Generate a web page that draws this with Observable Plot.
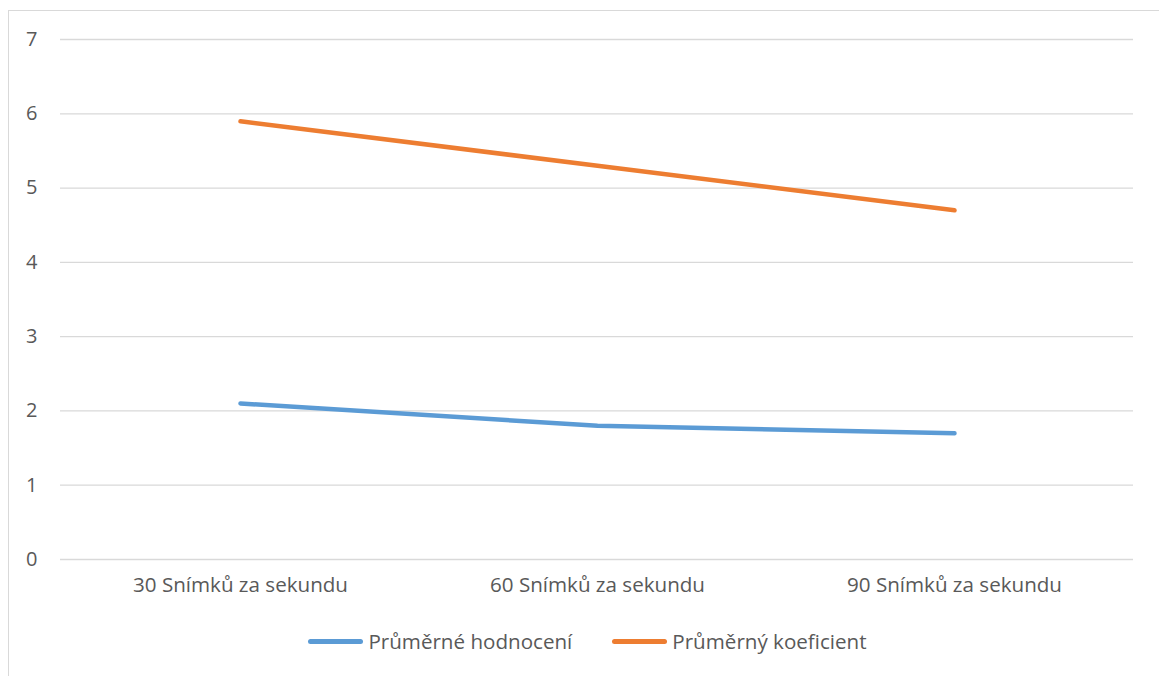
<!DOCTYPE html>
<html>
<head>
<meta charset="utf-8">
<script src="https://cdn.jsdelivr.net/npm/d3@7"></script>
<script src="https://cdn.jsdelivr.net/npm/@observablehq/plot@0.6"></script>
<style>
  html, body { margin: 0; padding: 0; background: #fff; overflow: hidden; }
  body { width: 1159px; height: 676px; position: relative; font-family: "Open Sans", Lato, sans-serif; color: #595959; }
  #frame { position: absolute; left: 8px; top: 10px; width: 1200px; height: 720px; border: 1px solid #d9d9d9; box-sizing: border-box; }
  #chart { position: absolute; left: 0; top: 0; }
  #legend { position: absolute; left: 8px; top: 627px; width: 1159px; display: flex; justify-content: center; gap: 40px; font-size: 20.6px; }
  .item { display: flex; align-items: center; }
  .swatch { width: 55px; height: 5px; border-radius: 3px; margin-right: 5px; }
</style>
</head>
<body>
<div id="frame"></div>
<div id="chart"></div>
<div id="legend"></div>
<script>
// Frame rates on the x axis
const categories = ["30 Snímků za sekundu", "60 Snímků za sekundu", "90 Snímků za sekundu"];
// Series names and values
const seriesNames = ["Průměrné hodnocení", "Průměrný koeficient"];
const hodnoceni = [2.1, 1.8, 1.7];
const koeficient = [5.9, 5.3, 4.7];
const colors = ["#5b9bd5", "#ed7d31"];
const yTicks = [0, 1, 2, 3, 4, 5, 6, 7];

const rows = [
  ...categories.map((c, i) => ({cat: c, value: hodnoceni[i], series: seriesNames[0]})),
  ...categories.map((c, i) => ({cat: c, value: koeficient[i], series: seriesNames[1]}))
];

const chart = Plot.plot({
  width: 1159,
  height: 600,
  marginLeft: 60,
  marginRight: 26,
  marginTop: 39,
  marginBottom: 41,
  style: {fontFamily: "'Open Sans', Lato, sans-serif", fontSize: "21px", color: "#595959", background: "transparent"},
  x: {type: "point", domain: categories, padding: 0.5, label: null},
  y: {domain: [0, 7], label: null},
  color: {domain: seriesNames, range: colors},
  marks: [
    Plot.gridY(yTicks, {stroke: "#d9d9d9", strokeOpacity: 1, strokeWidth: 1.3}),
    Plot.axisY(yTicks, {tickSize: 0, tickPadding: 23, fontSize: 20, fill: "#595959", tickFormat: d => String(d)}),
    Plot.axisX({tickSize: 0, tickPadding: 18, fontSize: 20.6, fill: "#595959"}),
    Plot.line(rows, {x: "cat", y: "value", z: "series", stroke: "series", strokeWidth: 4.5, strokeLinecap: "round", strokeLinejoin: "round"})
  ]
});
document.getElementById("chart").appendChild(chart);

const legend = document.getElementById("legend");
seriesNames.forEach((name, i) => {
  const item = document.createElement("div");
  item.className = "item";
  const sw = document.createElement("div");
  sw.className = "swatch";
  sw.style.background = colors[i];
  const label = document.createElement("span");
  label.textContent = name;
  item.appendChild(sw);
  item.appendChild(label);
  legend.appendChild(item);
});
</script>
</body>
</html>
